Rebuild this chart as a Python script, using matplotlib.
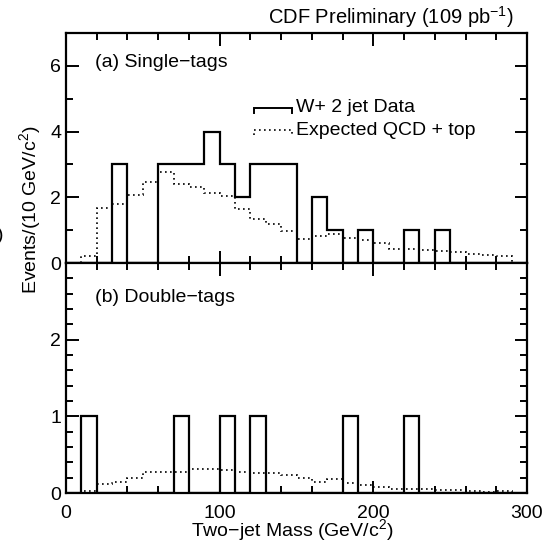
import numpy as np
import matplotlib
matplotlib.use("Agg")
import matplotlib.pyplot as plt
from matplotlib.ticker import MultipleLocator, FixedLocator

plt.rcParams['font.family'] = ['Liberation Sans', 'DejaVu Sans']
plt.rcParams['mathtext.fontset'] = 'custom'
plt.rcParams['mathtext.rm'] = 'Liberation Sans'

# bin edges (GeV/c^2), 10 GeV bins from 0 to 300
edges = np.arange(0, 301, 10)

# (a) Single-tags
single_data = [0, 0, 0, 3, 0, 0, 3, 3, 3, 4, 3, 2, 3, 3, 3,
               0, 2, 1, 0, 1, 0, 0, 1, 0, 1, 0, 0, 0, 0, 0]
single_expected = [0.0, 0.22, 1.66, 1.81, 2.06, 2.46, 2.77, 2.41, 2.31, 2.14,
                   2.04, 1.64, 1.33, 1.18, 0.98, 0.73, 0.83, 0.88, 0.75, 0.70,
                   0.60, 0.42, 0.44, 0.41, 0.38, 0.34, 0.28, 0.24, 0.22, 0.0]

# (b) Double-tags
double_data = [0, 1, 0, 0, 0, 0, 0, 1, 0, 0, 1, 0, 1, 0, 0,
               0, 0, 0, 1, 0, 0, 0, 1, 0, 0, 0, 0, 0, 0, 0]
double_expected = [0.0, 0.02, 0.12, 0.15, 0.20, 0.27, 0.27, 0.27, 0.31, 0.31,
                   0.30, 0.27, 0.26, 0.26, 0.23, 0.19, 0.15, 0.18, 0.13, 0.10,
                   0.08, 0.05, 0.05, 0.05, 0.04, 0.04, 0.02, 0.01, 0.02, 0.0]

title = "CDF Preliminary (109 pb$^{-1}$)"
xlabel = "Two\u2212jet Mass (GeV/c$^2$)"
ylabel = "Events/(10 GeV/c$^2$)"
label_a = "(a) Single\u2212tags"
label_b = "(b) Double\u2212tags"
legend_data = "W+ 2 jet Data"
legend_exp = "Expected QCD + top"

W, H = 544, 543
fig = plt.figure(figsize=(W / 100, H / 100), dpi=100)
L, R = 66 / W, 527 / W
ax1 = fig.add_axes([L, 1 - 263 / H, R - L, (263 - 33) / H])
ax2 = fig.add_axes([L, 1 - 493 / H, R - L, (493 - 263) / H])

LW = 1.6
for ax in (ax1, ax2):
    for s in ax.spines.values():
        s.set_linewidth(LW)
    ax.set_xlim(0, 300)
    ax.xaxis.set_major_locator(MultipleLocator(100))
    ax.xaxis.set_minor_locator(MultipleLocator(20))
    ax.tick_params(which='both', direction='in', top=True, right=True,
                   width=1.4, labelsize=14)
    ax.tick_params(which='major', length=9)
    ax.tick_params(which='minor', length=5)

ax1.stairs(single_data, edges, color='black', lw=LW, baseline=0)
ax1.stairs(single_expected, edges, color='black', lw=1.2, ls=(0, (1, 2)), baseline=None)
ax1.set_ylim(0, 7)
ax1.yaxis.set_major_locator(FixedLocator([0, 2, 4, 6]))
ax1.yaxis.set_minor_locator(MultipleLocator(1))
ax1.tick_params(labelbottom=False)

ax2.stairs(double_data, edges, color='black', lw=LW, baseline=0)
ax2.stairs(double_expected, edges, color='black', lw=1.2, ls=(0, (1, 2)), baseline=None)
ax2.set_ylim(0, 3)
ax2.yaxis.set_major_locator(FixedLocator([0, 1, 2]))
ax2.yaxis.set_minor_locator(MultipleLocator(0.2))
ax2.set_xticks([0, 100, 200, 300])
ax2.set_xticklabels(['0', '100', '200', '300'])
ax2.tick_params(axis='x', pad=9)

ax1.text(0.063, 0.87, label_a, transform=ax1.transAxes, fontsize=14,
         va='center', ha='left')
ax2.text(0.063, 0.852, label_b, transform=ax2.transAxes, fontsize=14,
         va='center', ha='left')

# legend drawn in axes fraction
x0, x1 = 0.408, 0.490
for yy, style, lw, txt in [(0.676, '-', 1.4, legend_data),
                           (0.578, (0, (1, 2)), 1.2, legend_exp)]:
    ax1.plot([x0, x0, x1, x1], [yy - 0.022, yy, yy, yy - 0.022],
             transform=ax1.transAxes, color='black', lw=lw, ls=style,
             solid_joinstyle='miter')
    ax1.text(0.499, yy, txt, transform=ax1.transAxes, fontsize=14,
             va='center', ha='left')

fig.text(514 / W, 1 - 17 / H, title, fontsize=14.5, ha='right', va='center')
fig.text(292 / W, 1 - 531 / H, xlabel, fontsize=14, ha='center', va='center')
fig.text(31 / W, 1 - 210 / H, ylabel, fontsize=14, ha='center', va='center',
         rotation=90)
fig.text(0 / W, 1 - 235 / H, ")", fontsize=14, ha='center', va='center')

fig.savefig("out.png", dpi=100)
